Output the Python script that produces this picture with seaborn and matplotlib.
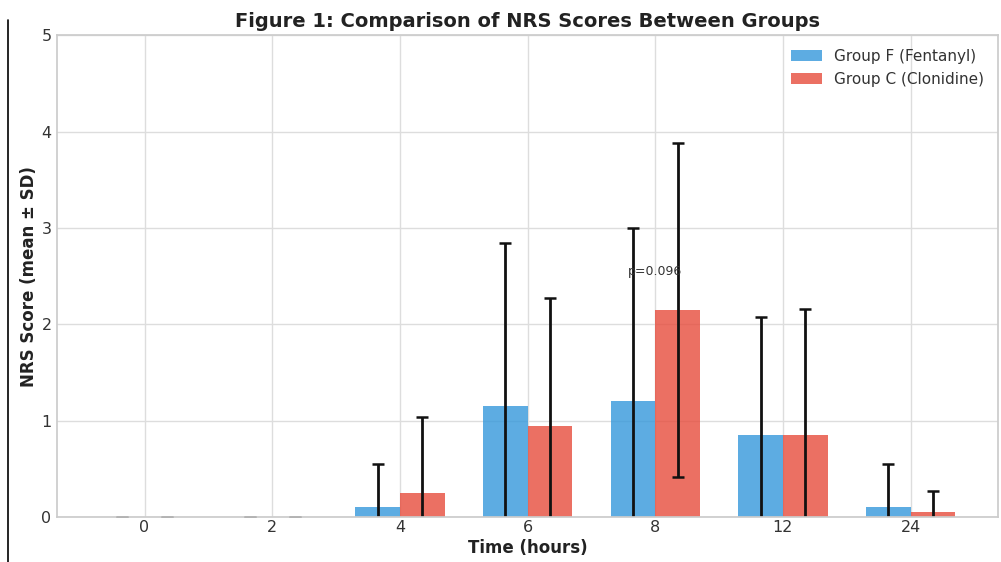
import numpy as np
import pandas as pd
import matplotlib
matplotlib.use('Agg')
import matplotlib.pyplot as plt
from matplotlib.lines import Line2D
import seaborn as sns

# time points and group stats
times = ['0', '2', '4', '6', '8', '12', '24']
fent_mean = [0.0, 0.0, 0.10, 1.15, 1.20, 0.85, 0.10]
fent_sd = [0.0, 0.0, 0.45, 1.69, 1.80, 1.23, 0.45]
clon_mean = [0.0, 0.0, 0.25, 0.95, 2.15, 0.85, 0.05]
clon_sd = [0.0, 0.0, 0.79, 1.32, 1.73, 1.31, 0.22]
groups = ['Group F (Fentanyl)', 'Group C (Clonidine)']

COLOR_F = '#3498db'
COLOR_C = '#e74c3c'

sns.set_theme(style='whitegrid')
plt.rcParams['font.family'] = ['DejaVu Sans']

df = pd.DataFrame({
    'time': times * 2,
    'score': fent_mean + clon_mean,
    'group': [groups[0]] * len(times) + [groups[1]] * len(times),
})

fig, ax = plt.subplots(figsize=(10.01, 5.62), dpi=100)
sns.barplot(data=df, x='time', y='score', hue='group', order=times,
            hue_order=groups, palette=[COLOR_F, COLOR_C], alpha=0.8,
            saturation=1, errorbar=None, width=0.7, linewidth=0, ax=ax)

x = np.arange(len(times))
w = 0.35
ax.errorbar(x - w / 2, fent_mean, yerr=fent_sd, fmt='none', ecolor='#111111',
            elinewidth=2, capsize=4, capthick=1.8)
ax.errorbar(x + w / 2, clon_mean, yerr=clon_sd, fmt='none', ecolor='#111111',
            elinewidth=2, capsize=4, capthick=1.8)

ax.text(4, 2.55, 'p=0.096', ha='center', va='center', fontsize=9, color='#333333')

ax.set_ylim(0, 5)
ax.grid(True, axis='both', color='#dddddd', linewidth=1)
ax.set_axisbelow(True)
ax.set_title('Figure 1: Comparison of NRS Scores Between Groups',
             fontsize=14, fontweight='bold', color='#222222')
ax.set_xlabel('Time (hours)', fontsize=12, fontweight='bold', color='#222222', labelpad=3)
ax.set_ylabel('NRS Score (mean ± SD)', fontsize=12, fontweight='bold', color='#222222', labelpad=2)
ax.tick_params(labelsize=11.5, colors='#333333', length=0, pad=2)
ax.tick_params(axis='y', pad=4)
ax.legend(loc='upper right', fontsize=11, frameon=False, title=None, labelcolor='#333333')

plt.subplots_adjust(left=0.057, right=0.997, top=0.937, bottom=0.08)
fig.add_artist(Line2D([0.008, 0.008], [0.0, 0.965], transform=fig.transFigure,
                      color='black', lw=1.2))

fig.savefig('out.png', dpi=100)
